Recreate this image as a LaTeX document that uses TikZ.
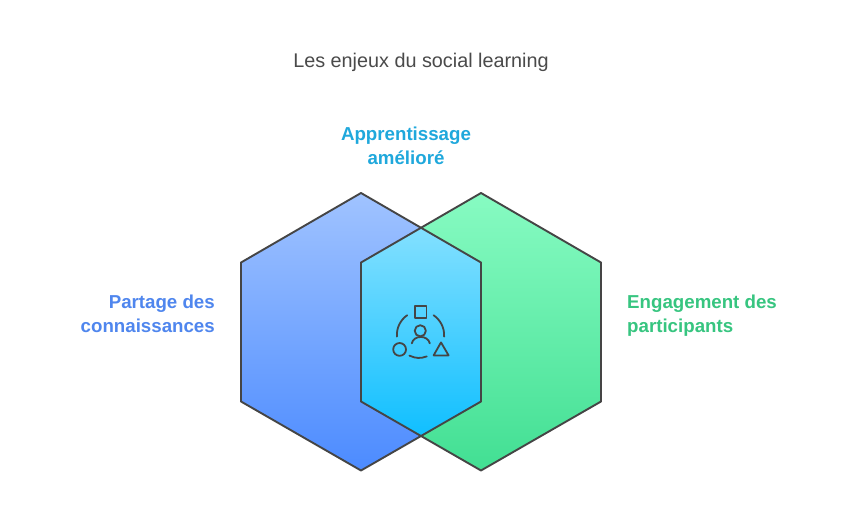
\documentclass[tikz,border=0pt]{standalone}
\usepackage{fontspec}
\setmainfont{Liberation Sans}
\definecolor{lineC}{HTML}{454545}
\definecolor{titleC}{HTML}{4A4A4A}
\definecolor{blueT}{HTML}{A0C3FF}
\definecolor{blueB}{HTML}{4C8BFF}
\definecolor{greenT}{HTML}{87FBC2}
\definecolor{greenB}{HTML}{42DF93}
\definecolor{midT}{HTML}{83E0FF}
\definecolor{midB}{HTML}{10BFFF}
\definecolor{lblBlue}{HTML}{4F86EE}
\definecolor{lblTeal}{HTML}{1FA8DC}
\definecolor{lblGreen}{HTML}{37C580}
\tikzset{
  hexline/.style={draw=lineC,line width=1.9pt,line join=round},
  iconline/.style={draw=lineC,line width=1.8pt,line cap=round,line join=round},
  lbl/.style={font=\fontsize{18.7}{24}\selectfont\bfseries,inner sep=0pt,text depth=0pt},
}
\begin{document}
\begin{tikzpicture}[x=1pt,y=-1pt]
\useasboundingbox (0,0) rectangle (842,530);
\fill[white] (0,0) rectangle (842,530);
% corners
\coordinate (bT) at (361,193);
\coordinate (bTR) at (481,262.5);
\coordinate (bBR) at (481,401.5);
\coordinate (bB) at (361,470.5);
\coordinate (bBL) at (241,401.5);
\coordinate (bTL) at (241,262.5);
\coordinate (gT) at (481,193);
\coordinate (gTR) at (601,262.5);
\coordinate (gBR) at (601,401.5);
\coordinate (gB) at (481,470.5);
\coordinate (gBL) at (361,401.5);
\coordinate (gTL) at (361,262.5);
\coordinate (mT) at (421,227.6);
\coordinate (mB) at (421,435.4);
\shade[top color=blueT,bottom color=blueB] (bT)--(bTR)--(bBR)--(bB)--(bBL)--(bTL)--cycle;
\shade[top color=greenT,bottom color=greenB] (gT)--(gTR)--(gBR)--(gB)--(gBL)--(gTL)--cycle;
\shade[top color=midT,bottom color=midB] (mT)--(bTR)--(bBR)--(mB)--(gBL)--(gTL)--cycle;
\draw[hexline] (bT)--(bTR)--(bBR)--(bB)--(bBL)--(bTL)--cycle;
\draw[hexline] (gT)--(gTR)--(gBR)--(gB)--(gBL)--(gTL)--cycle;
% icon
\draw[iconline] (414.6,306.2) rectangle (426.4,318);
\draw[iconline] (420.3,330.8) circle[radius=5.6];
\coordinate (sL) at (411.8,343.4);
\coordinate (sR) at (429.8,343.4);
\draw[iconline] (sL) .. controls (413.5,334.8) and (428,334.8) .. (sR);
\draw[iconline] (399.6,349.4) circle[radius=6.4];
\draw[iconline] (441,342.4)--(448.6,355.4)--(433.6,355.4)--cycle;
\draw[iconline] (396.9,336.6) .. controls (396.4,327.5) and (400.5,320) .. (407.2,315.2);
\draw[iconline] (433.6,315.2) .. controls (440.3,320) and (444.6,327.5) .. (444.1,336.6);
\draw[iconline] (409.4,355.6) .. controls (416,358.6) and (420.5,358.6) .. (426.8,356.4);
% text
\node[font=\fontsize{19.8}{24}\selectfont,text=titleC,inner sep=0pt] (title) at (421,62.5) {Les enjeux du social learning};
\node[lbl,text=lblTeal,align=center] (top) at (406,145.5) {Apprentissage\\amélioré};
\node[lbl,text=lblBlue,align=right,anchor=east] (left) at (215,313.5) {Partage des\\connaissances};
\node[lbl,text=lblGreen,align=left,anchor=west] (right) at (627,313.5) {Engagement des\\participants};
\end{tikzpicture}
\end{document}
